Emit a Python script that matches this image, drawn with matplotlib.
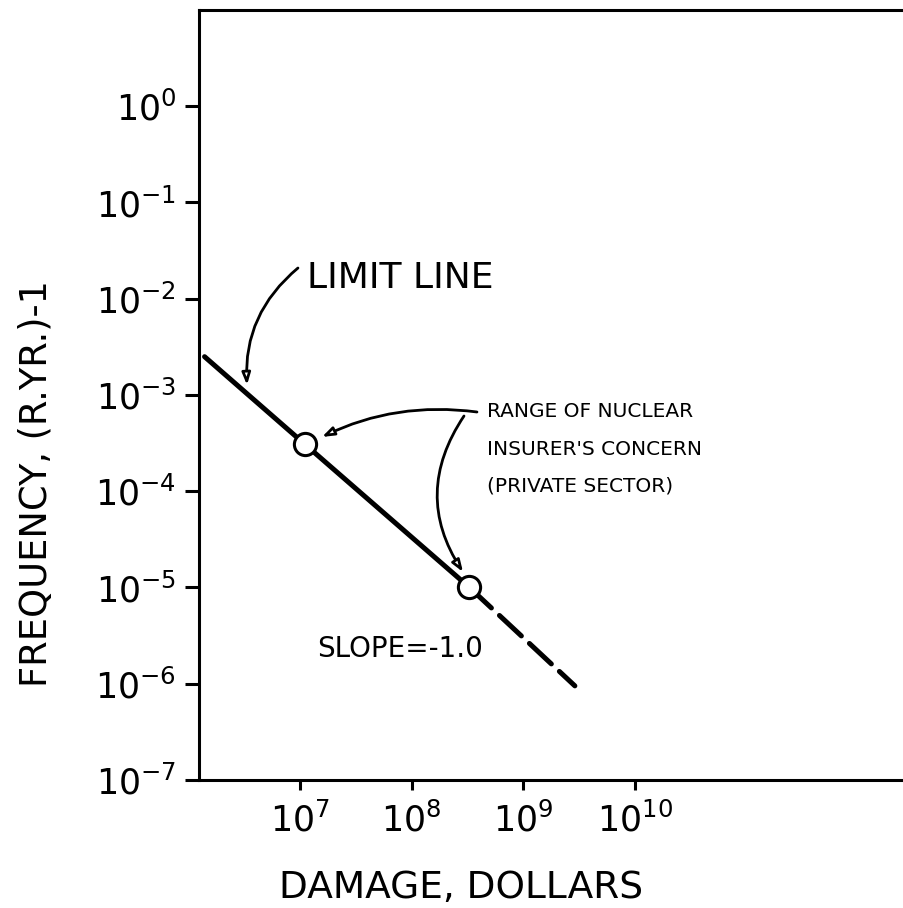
import matplotlib
matplotlib.use("Agg")
import matplotlib.pyplot as plt
from matplotlib.ticker import FixedLocator, NullLocator

# limit line, damage in dollars vs frequency per reactor-year
damage = [1.4e6, 1.1e7, 3.3e8, 2.9e9]
frequency = [2.5e-3, 3.1e-4, 1.0e-5, 9.5e-7]

# circled ends of the insurers' range
range_damage = [1.1e7, 3.3e8]
range_freq = [3.1e-4, 1.0e-5]

x_ticks = [1e7, 1e8, 1e9, 1e10]
x_tick_labels = [r"$10^{7}$", r"$10^{8}$", r"$10^{9}$", r"$10^{10}$"]
y_ticks = [1e-7, 1e-6, 1e-5, 1e-4, 1e-3, 1e-2, 1e-1, 1e0]
y_tick_labels = [r"$10^{-7}$", r"$10^{-6}$", r"$10^{-5}$", r"$10^{-4}$",
                 r"$10^{-3}$", r"$10^{-2}$", r"$10^{-1}$", r"$10^{0}$"]

fig = plt.figure(figsize=(9.04, 9.08), dpi=100)
ax = fig.add_axes([0.2201, 0.141, 0.7799, 0.848])
ax.set_xscale("log")
ax.set_yscale("log")
ax.set_xlim(10 ** 6.096, 10 ** 12.41)
ax.set_ylim(1e-7, 1e1)

# solid up to the second circle, dashed beyond
ax.plot(damage[:3], frequency[:3], color="k", lw=3.6, solid_capstyle="round", zorder=2)
ax.plot(damage[2:], frequency[2:], color="k", lw=3.6, linestyle=(0, (6, 2.2)),
        dash_capstyle="round", zorder=2)
ax.plot(range_damage, range_freq, "o", ms=16, mfc="white", mec="k", mew=2.2, zorder=3)

ax.xaxis.set_major_locator(FixedLocator(x_ticks))
ax.xaxis.set_minor_locator(NullLocator())
ax.set_xticklabels(x_tick_labels)
ax.yaxis.set_major_locator(FixedLocator(y_ticks))
ax.yaxis.set_minor_locator(NullLocator())
ax.set_yticklabels(y_tick_labels)

ax.tick_params(axis="y", direction="out", length=10, width=2.2, pad=6.5, labelsize=25)
ax.tick_params(axis="x", direction="out", length=7, width=2.2, pad=9, labelsize=25)
for side in ["left", "bottom", "top"]:
    ax.spines[side].set_linewidth(2.2)
ax.spines["right"].set_visible(False)

arrow = dict(arrowstyle="-|>,head_length=0.7,head_width=0.25", lw=2, color="k",
             fc="white", shrinkA=0, shrinkB=0)

ax.text(0.1532, 0.639, "LIMIT LINE", transform=ax.transAxes, fontsize=26,
        ha="left", va="baseline")
ax.annotate("", xy=(0.0681, 0.513), xytext=(0.1404, 0.6649), xycoords="axes fraction",
            arrowprops=dict(arrow, connectionstyle="arc3,rad=0.25"))

for label, y in [("RANGE OF NUCLEAR", 0.4714), ("INSURER'S CONCERN", 0.4221),
                 ("(PRIVATE SECTOR)", 0.374)]:
    ax.text(0.4085, y, label, transform=ax.transAxes, fontsize=14.5,
            ha="left", va="baseline")
ax.annotate("", xy=(0.1745, 0.4455), xytext=(0.3943, 0.4779), xycoords="axes fraction",
            arrowprops=dict(arrow, connectionstyle="arc3,rad=0.15"))
ax.annotate("", xy=(0.3745, 0.2701), xytext=(0.3759, 0.4727), xycoords="axes fraction",
            arrowprops=dict(arrow, connectionstyle="arc3,rad=0.33"))

ax.text(0.1674, 0.1597, "SLOPE=-1.0", transform=ax.transAxes, fontsize=20,
        ha="left", va="baseline")

fig.text(0.51, 0.011, "DAMAGE, DOLLARS", fontsize=27, ha="center", va="baseline")
fig.text(0.052, 0.2434, "FREQUENCY, (R.YR.)-1", fontsize=26.5, rotation=90,
         rotation_mode="anchor", ha="left", va="baseline")

fig.savefig("out.png", dpi=100)
